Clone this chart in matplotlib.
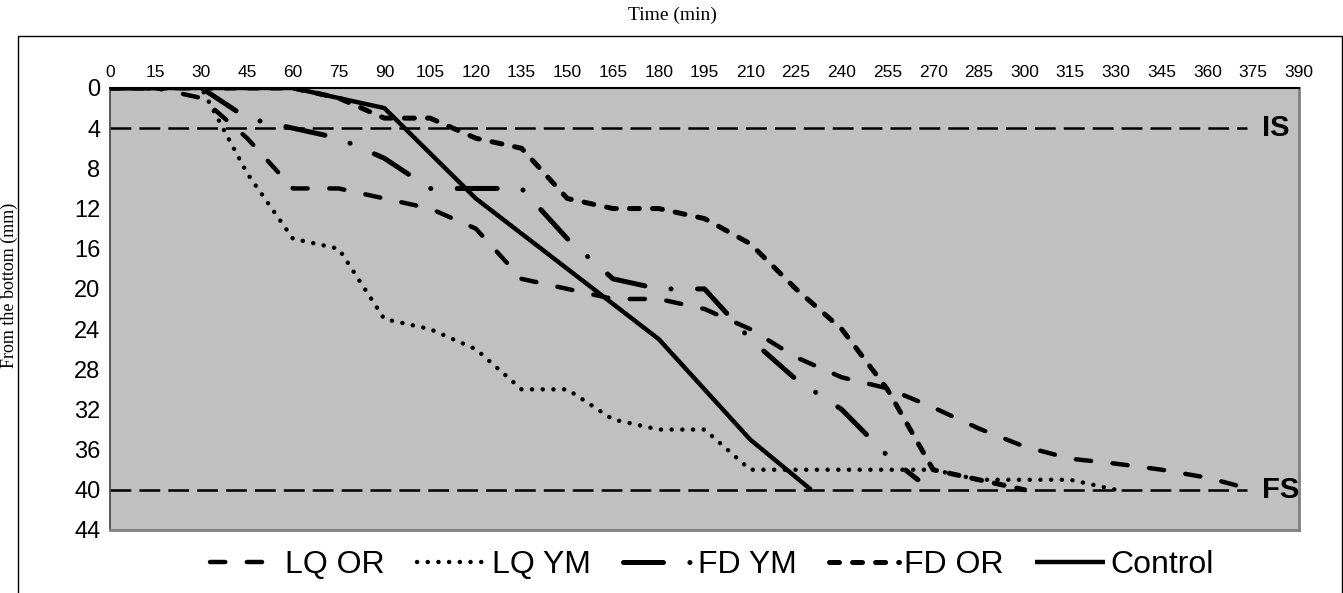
import matplotlib
matplotlib.use("Agg")
import matplotlib.pyplot as plt
from matplotlib.patches import Rectangle

plt.rcParams['lines.scale_dashes'] = False

# ---- data ----
x_ticks = list(range(0, 391, 15))
y_ticks = list(range(0, 45, 4))

lq_or_t = [0, 15, 30, 45, 60, 75, 90, 105, 120, 135, 150, 165, 180, 195, 210, 225, 240, 255, 270, 285, 300, 315, 330, 345, 360, 375]
lq_or_y = [0, 0, 1, 5, 10, 10, 11, 12, 14, 19, 20, 21, 21, 22, 24, 26.8, 28.8, 29.9, 31.8, 33.9, 35.7, 36.9, 37.4, 38, 38.8, 40]

lq_ym_t = [0, 30, 45, 60, 75, 90, 105, 120, 135, 150, 165, 180, 195, 210, 225, 240, 255, 270, 285, 300, 315, 330]
lq_ym_y = [0, 0, 8.5, 15, 16, 23, 24, 26, 30, 30, 33, 34, 34, 38, 38, 38, 38, 38, 39, 39, 39, 40]

fd_ym_t = [0, 30, 45, 60, 75, 90, 105, 120, 135, 150, 165, 180, 195, 210, 225, 240, 255, 265]
fd_ym_y = [0, 0, 3, 4, 5, 7, 10, 10, 10, 15, 19, 20, 20, 25, 29, 32, 36.6, 39]

fd_or_t = [0, 60, 75, 90, 105, 120, 135, 150, 165, 180, 195, 210, 225, 240, 255, 270, 285, 300]
fd_or_y = [0, 0, 1, 3, 3, 5, 6, 11, 12, 12, 13, 15.5, 20, 24, 30, 38, 39, 40]

control_t = [0, 60, 90, 120, 180, 210, 230]
control_y = [0, 0, 2, 11, 25, 35, 40]

IS_level = 4
FS_level = 40
line_end_t = 373

W, H = 1343, 593
fig = plt.figure(figsize=(W / 100, H / 100), dpi=100)

# outer chart border
fig.patches.append(Rectangle((18 / W, -0.02), (1342 - 18) / W, 1 - 36 / H + 0.02,
                             transform=fig.transFigure, fill=False, ec='black', lw=1.0))

ax = fig.add_axes([110 / W, (H - 530) / H, (1299 - 110) / W, (530 - 88) / H])
ax.set_facecolor('#C0C0C0')
ax.set_xlim(0, 390)
ax.set_ylim(44, 0)
ax.xaxis.tick_top()
ax.set_xticks(x_ticks)
ax.set_yticks(y_ticks)
ax.tick_params(axis='x', length=0, pad=6, labelsize=12.5)
ax.tick_params(axis='y', length=0, pad=7, labelsize=17)
for lab in ax.get_xticklabels() + ax.get_yticklabels():
    lab.set_fontfamily('Liberation Sans')
ax.spines['top'].set_color('black')
ax.spines['top'].set_linewidth(1.5)
ax.spines['left'].set_color('#404040')
ax.spines['left'].set_linewidth(1.2)
ax.spines['right'].set_color('#808080')
ax.spines['right'].set_linewidth(2)
ax.spines['bottom'].set_color('#808080')
ax.spines['bottom'].set_linewidth(2)

# IS / FS reference lines
for lvl in (IS_level, FS_level):
    ax.plot([0, line_end_t], [lvl, lvl], color='black', lw=1.8,
            dashes=(15, 5.8), dash_capstyle='butt', zorder=2)
ax.text(378, IS_level, 'IS', fontsize=21, fontweight='bold', family='Liberation Sans',
        ha='left', va='center', zorder=5)
ax.text(378, FS_level, 'FS', fontsize=21, fontweight='bold', family='Liberation Sans',
        ha='left', va='center', zorder=5)

h1, = ax.plot(lq_or_t, lq_or_y, color='black', lw=3.2, dashes=(11, 15.5),
              dash_capstyle='round', label='LQ OR', zorder=3)
h2, = ax.plot(lq_ym_t, lq_ym_y, color='black', lw=3.2, dashes=(0.1, 7.6),
              dash_capstyle='round', label='LQ YM', zorder=3)
h3, = ax.plot(fd_ym_t, fd_ym_y, color='black', lw=3.6, dashes=(28.8, 19, 0.1, 19),
              dash_capstyle='round', label='FD YM', zorder=3)
h4, = ax.plot(fd_or_t, fd_or_y, color='black', lw=3.6, dashes=(7.2, 9.4),
              dash_capstyle='round', label='FD OR', zorder=3)
h5, = ax.plot(control_t, control_y, color='black', lw=3.2, solid_capstyle='butt',
              label='Control', zorder=4)

fig.legend(handles=[h1, h2, h3, h4, h5], loc='center',
           bbox_to_anchor=(712 / W, 1 - 565 / H), ncol=5, frameon=False,
           prop={'family': 'Liberation Sans', 'size': 23},
           handlelength=2.2, handletextpad=0.15, columnspacing=1.0)

fig.text(672 / W, 1 - 15 / H, 'Time (min)', family='Liberation Serif', fontsize=14,
         ha='center', va='center')
fig.text(9 / W, 1 - 285 / H, 'From the bottom (mm)', family='Liberation Serif',
         fontsize=13, rotation=90, ha='center', va='center')

fig.savefig('out.png', dpi=100)
